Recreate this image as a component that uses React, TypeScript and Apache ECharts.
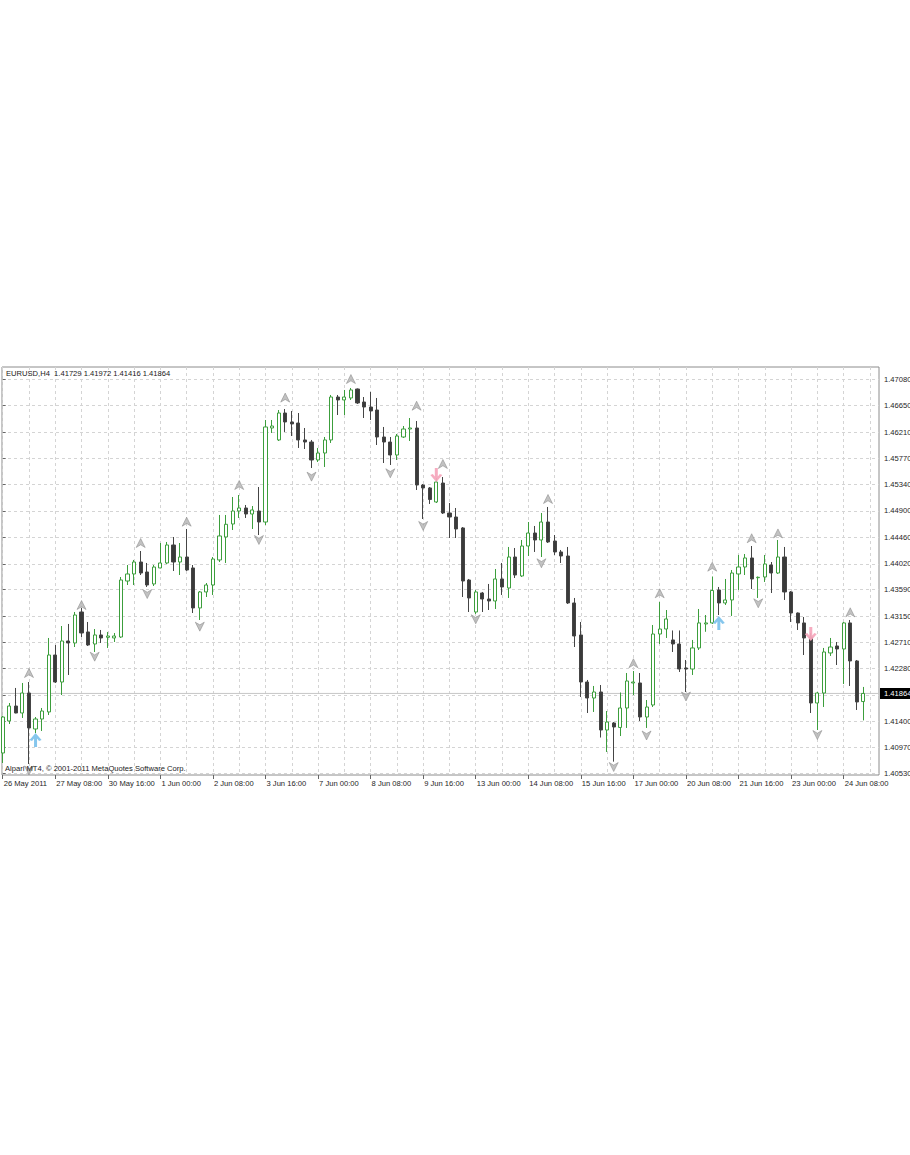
import React, { useEffect, useRef } from "react";
import * as echarts from "echarts";

// ---------- data ----------
const symbolName = "EURUSD,H4";
const copyrightText = "Alpari MT4, \u00A9 2001-2011 MetaQuotes Software Corp.";

// H4 candles, one per bar index, as [open, close, low, high]
const candles: number[][] = [
  [1.40874, 1.41472, 1.40708, 1.41489],
  [1.41406, 1.41655, 1.41356, 1.41705],
  [1.41655, 1.41539, 1.41534, 1.41955],
  [1.41539, 1.41871, 1.41456, 1.42038],
  [1.41871, 1.4129, 1.40691, 1.42054],
  [1.41273, 1.41439, 1.41206, 1.41472],
  [1.41439, 1.41572, 1.4124, 1.41622],
  [1.41556, 1.42503, 1.41506, 1.42786],
  [1.42503, 1.42054, 1.42038, 1.42669],
  [1.42054, 1.42736, 1.41838, 1.42985],
  [1.42736, 1.42703, 1.42171, 1.43019],
  [1.42703, 1.43168, 1.42636, 1.43218],
  [1.43218, 1.42869, 1.42802, 1.43285],
  [1.42886, 1.42669, 1.42653, 1.43052],
  [1.42686, 1.42836, 1.42553, 1.42935],
  [1.42836, 1.42786, 1.42703, 1.42919],
  [1.42797, 1.42819, 1.4262, 1.42886],
  [1.42786, 1.42819, 1.42719, 1.42869],
  [1.42802, 1.4375, 1.42786, 1.438],
  [1.43733, 1.4385, 1.43667, 1.43999],
  [1.4385, 1.44049, 1.43667, 1.44083],
  [1.44049, 1.43866, 1.43833, 1.44232],
  [1.43883, 1.43667, 1.43634, 1.44033],
  [1.43684, 1.43966, 1.4365, 1.43999],
  [1.4395, 1.44033, 1.43945, 1.44365],
  [1.44033, 1.44332, 1.44016, 1.44382],
  [1.44332, 1.44049, 1.439, 1.44465],
  [1.44049, 1.44132, 1.43833, 1.44365],
  [1.44132, 1.43916, 1.439, 1.44598],
  [1.4395, 1.43285, 1.43201, 1.43999],
  [1.43285, 1.43551, 1.43085, 1.43567],
  [1.43551, 1.43667, 1.43467, 1.437],
  [1.43667, 1.44099, 1.43501, 1.44132],
  [1.44083, 1.44482, 1.44049, 1.44831],
  [1.44465, 1.44676, 1.44033, 1.44831],
  [1.44681, 1.44897, 1.44581, 1.4513],
  [1.44897, 1.44947, 1.44781, 1.45163],
  [1.44947, 1.44847, 1.44781, 1.44997],
  [1.44847, 1.44914, 1.44598, 1.4498],
  [1.44897, 1.44714, 1.44498, 1.45296],
  [1.44714, 1.46294, 1.44664, 1.4641],
  [1.46277, 1.4631, 1.46194, 1.4641],
  [1.46078, 1.46526, 1.46061, 1.46576],
  [1.46526, 1.46377, 1.46211, 1.46593],
  [1.46377, 1.46344, 1.46144, 1.4656],
  [1.4636, 1.46078, 1.45945, 1.46526],
  [1.46078, 1.46044, 1.45928, 1.46277],
  [1.46044, 1.45745, 1.45612, 1.46078],
  [1.45745, 1.45861, 1.45712, 1.45945],
  [1.45861, 1.46078, 1.45629, 1.46127],
  [1.46078, 1.46792, 1.46028, 1.46826],
  [1.46792, 1.46743, 1.46493, 1.46826],
  [1.46743, 1.46792, 1.46493, 1.46909],
  [1.46776, 1.46909, 1.46743, 1.46942],
  [1.46925, 1.46693, 1.46676, 1.46934],
  [1.46709, 1.46626, 1.46443, 1.46792],
  [1.46626, 1.4656, 1.4641, 1.46876],
  [1.46576, 1.46127, 1.45994, 1.46776],
  [1.46127, 1.46044, 1.45695, 1.46294],
  [1.46044, 1.45828, 1.45662, 1.46127],
  [1.45828, 1.46144, 1.45745, 1.46177],
  [1.46127, 1.4626, 1.46111, 1.4631],
  [1.4626, 1.46277, 1.46061, 1.46443],
  [1.46277, 1.45329, 1.45246, 1.46393],
  [1.45329, 1.4528, 1.44764, 1.45346],
  [1.4528, 1.45088, 1.45014, 1.45296],
  [1.45047, 1.45379, 1.4503, 1.45446],
  [1.45362, 1.44864, 1.44847, 1.45462],
  [1.44864, 1.44797, 1.44448, 1.4503],
  [1.44797, 1.44598, 1.44448, 1.44947],
  [1.44615, 1.43733, 1.43467, 1.44631],
  [1.4375, 1.43451, 1.43218, 1.43767],
  [1.43218, 1.43551, 1.43185, 1.43584],
  [1.43534, 1.43434, 1.43218, 1.43551],
  [1.43434, 1.43401, 1.43251, 1.43684],
  [1.43401, 1.43767, 1.43268, 1.43933],
  [1.43767, 1.43634, 1.43501, 1.44033],
  [1.43617, 1.44132, 1.43451, 1.44299],
  [1.44132, 1.43833, 1.43783, 1.44282],
  [1.43817, 1.44315, 1.438, 1.44415],
  [1.44315, 1.44531, 1.44149, 1.44714],
  [1.44531, 1.44415, 1.44216, 1.44648],
  [1.44415, 1.44714, 1.44132, 1.44864],
  [1.44714, 1.44382, 1.44365, 1.44964],
  [1.44398, 1.44216, 1.44166, 1.44498],
  [1.44216, 1.44149, 1.44033, 1.44249],
  [1.44149, 1.43368, 1.43351, 1.44299],
  [1.43368, 1.42819, 1.42636, 1.43451],
  [1.42836, 1.42054, 1.41805, 1.43052],
  [1.42054, 1.41788, 1.41539, 1.42088],
  [1.41788, 1.41888, 1.41556, 1.41988],
  [1.41888, 1.41256, 1.41131, 1.42004],
  [1.41256, 1.41389, 1.40891, 1.41572],
  [1.41373, 1.41306, 1.4073, 1.41389],
  [1.41298, 1.41622, 1.41156, 1.4188],
  [1.41622, 1.42071, 1.4129, 1.42204],
  [1.42038, 1.42054, 1.41838, 1.42237],
  [1.42038, 1.41472, 1.41406, 1.42204],
  [1.41472, 1.41638, 1.4129, 1.41755],
  [1.41672, 1.42852, 1.41639, 1.43002],
  [1.42852, 1.42935, 1.42686, 1.43384],
  [1.42935, 1.43102, 1.42786, 1.43251],
  [1.42753, 1.42686, 1.42553, 1.42911],
  [1.42686, 1.4227, 1.42221, 1.42911],
  [1.42287, 1.4227, 1.41888, 1.4242],
  [1.4227, 1.4262, 1.42171, 1.42753],
  [1.4262, 1.43036, 1.42586, 1.43268],
  [1.43019, 1.43036, 1.42889, 1.43168],
  [1.43036, 1.43576, 1.43019, 1.43808],
  [1.43584, 1.43368, 1.43168, 1.43634],
  [1.43368, 1.43418, 1.43335, 1.43767],
  [1.43418, 1.43866, 1.43152, 1.43916],
  [1.4385, 1.43966, 1.43584, 1.44166],
  [1.43966, 1.44116, 1.43833, 1.44182],
  [1.44116, 1.43767, 1.436, 1.44315],
  [1.43788, 1.43795, 1.43451, 1.43808],
  [1.438, 1.44016, 1.43717, 1.44166],
  [1.43999, 1.43866, 1.43534, 1.44049],
  [1.43866, 1.44132, 1.4385, 1.44415],
  [1.44132, 1.43551, 1.43418, 1.44299],
  [1.43551, 1.43201, 1.43052, 1.43567],
  [1.43201, 1.43036, 1.42919, 1.4321],
  [1.43036, 1.42786, 1.42503, 1.43135],
  [1.42802, 1.41705, 1.41539, 1.42869],
  [1.41705, 1.41871, 1.41256, 1.41888],
  [1.41871, 1.42553, 1.41639, 1.4262],
  [1.42537, 1.42636, 1.42487, 1.42786],
  [1.42653, 1.42603, 1.42337, 1.42719],
  [1.42603, 1.43036, 1.42021, 1.43052],
  [1.43036, 1.42404, 1.41988, 1.43085],
  [1.42404, 1.41722, 1.41589, 1.4242],
  [1.41729, 1.41864, 1.41416, 1.41972],
];

// Fractal arrows: [bar index, price]
const upFractals: number[][] = [
  [4, 1.42204], [12, 1.43334], [21, 1.44365], [28, 1.44719], [36, 1.45329],
  [43, 1.46782], [53, 1.47091], [63, 1.46647], [67, 1.45679], [83, 1.45097],
  [96, 1.42366], [100, 1.43529], [108, 1.43971], [114, 1.44444], [118, 1.44524],
  [129, 1.43213],
];
const downFractals: number[][] = [
  [4, 1.40583], [14, 1.42475], [22, 1.43517], [30, 1.42974], [39, 1.44415],
  [47, 1.45468], [59, 1.45524], [64, 1.44648], [72, 1.43097], [82, 1.44028],
  [93, 1.40641], [98, 1.41165], [104, 1.41813], [115, 1.43363], [124, 1.41173],
];
// Signal arrows: [bar index, price]
const buySignals: number[][] = [[5, 1.4109], [109, 1.43036]];
const sellSignals: number[][] = [[66, 1.45496], [123, 1.42852]];

// Time axis: labelled bars and their texts, grid every 4 bars
const labelBars = [0, 8, 16, 24, 32, 40, 48, 56, 64, 72, 80, 88, 96, 104, 112, 120, 128];
const timeLabels = [
  "26 May 2011", "27 May 08:00", "30 May 16:00", "1 Jun 00:00", "2 Jun 08:00",
  "3 Jun 16:00", "7 Jun 00:00", "8 Jun 08:00", "9 Jun 16:00", "13 Jun 00:00",
  "14 Jun 08:00", "15 Jun 16:00", "17 Jun 00:00", "20 Jun 08:00", "21 Jun 16:00",
  "23 Jun 00:00", "24 Jun 08:00",
];
const gridBars = [0, 4, 8, 12, 16, 20, 24, 28, 32, 36, 40, 44, 48, 52, 56, 60, 64, 68, 72, 76, 80, 84, 88, 92, 96, 100, 104, 108, 112, 116, 120, 124, 128, 132];

// Price axis ticks and labels
const yTicks = [1.4053, 1.4097, 1.414, 1.4184, 1.4228, 1.4271, 1.4315, 1.4359, 1.4402, 1.4446, 1.449, 1.4534, 1.4577, 1.4621, 1.4665, 1.4708];
const yTickLabels = ["1.40530", "1.40970", "1.41400", "1.41840", "1.42280", "1.42710", "1.43150", "1.43590", "1.44020", "1.44460", "1.44900", "1.45340", "1.45770", "1.46210", "1.46650", "1.47080"];
const yLabelValues = yTicks.filter((v) => v !== 1.4184); // covered by price tag

// ---------- styling ----------
const FONT = "Liberation Sans";
const FS = 7.6;
const UP_FRACTAL = "path://M5,0 L10,10 L5,7 L0,10 Z";
const DOWN_FRACTAL = "path://M0,0 L5,3 L10,0 L5,10 Z";
const UP_ARROW = "path://M6,0 L12,7 L9.5,8 L7.5,5.5 L7.5,14 L4.5,14 L4.5,5.5 L2.5,8 L0,7 Z";
const DOWN_ARROW = "path://M6,14 L12,7 L9.5,6 L7.5,8.5 L7.5,0 L4.5,0 L4.5,8.5 L2.5,6 L0,7 Z";

export default function App() {
  const ref = useRef<HTMLDivElement>(null);

  useEffect(() => {
    if (!ref.current) return;
    const chart = echarts.init(ref.current, null, { renderer: "svg" });

    const candleData = candles.map((c, i) => [i, c[0], c[1], c[2], c[3]]);
    const last = candles[candles.length - 1];
    const lastClose = last[1];
    const titleText = `${symbolName}  ${last[0].toFixed(5)} ${last[3].toFixed(5)} ${last[2].toFixed(5)} ${last[1].toFixed(5)}`;

    const X_MIN = -0.1065;
    const X_MAX = 133.38;
    const Y_MIN = 1.40508;
    const Y_MAX = 1.47291;

    const option: any = {
      animation: false,
      backgroundColor: "#ffffff",
      textStyle: { fontFamily: FONT },
      grid: {
        left: 2,
        top: 367,
        width: 877,
        height: 408,
        show: true,
        borderColor: "#8c8c8c",
        borderWidth: 1,
        backgroundColor: "#ffffff",
        containLabel: false,
        outerBoundsMode: "none",
      },
      xAxis: [
        {
          type: "value",
          min: X_MIN,
          max: X_MAX,
          position: "bottom",
          axisLine: { show: false },
          axisTick: { show: false, customValues: gridBars },
          splitLine: { show: true, lineStyle: { color: "#d4d4d4", type: [3, 3], width: 1 } },
          axisLabel: {
            show: true,
            customValues: labelBars,
            formatter: (v: number) => {
              const k = labelBars.findIndex((b) => Math.abs(b - v) < 1e-6);
              return k >= 0 ? timeLabels[k] : "";
            },
            align: "left",
            margin: 4,
            padding: [0, 0, 0, 1],
            fontSize: FS,
            fontFamily: FONT,
            color: "#1e1e1e",
          },
        },
        {
          type: "value",
          min: X_MIN,
          max: X_MAX,
          position: "bottom",
          axisLine: { show: false },
          axisTick: { show: true, customValues: labelBars, length: 4, lineStyle: { color: "#666666" } },
          axisLabel: { show: false },
          splitLine: { show: false },
        },
      ],
      yAxis: [
        {
          type: "value",
          position: "right",
          min: Y_MIN,
          max: Y_MAX,
          axisLine: { show: false },
          axisTick: { show: true, customValues: yTicks, length: 3, lineStyle: { color: "#666666" } },
          axisLabel: {
            show: true,
            customValues: yLabelValues,
            formatter: (v: number) => {
              const k = yTicks.findIndex((t) => Math.abs(t - v) < 1e-7);
              return k >= 0 ? yTickLabels[k] : "";
            },
            margin: 5,
            fontSize: FS,
            fontFamily: FONT,
            color: "#1e1e1e",
          },
          splitLine: { show: true, lineStyle: { color: "#d4d4d4", type: [3, 3], width: 1 } },
        },
        {
          // current price tag on the price scale
          type: "value",
          position: "right",
          min: Y_MIN,
          max: Y_MAX,
          axisLine: { show: false },
          axisTick: { show: false, customValues: [lastClose] },
          splitLine: { show: false },
          axisLabel: {
            show: true,
            customValues: [lastClose],
            formatter: (v: number) => v.toFixed(5),
            margin: 1,
            fontSize: FS,
            fontFamily: FONT,
            color: "#ffffff",
            backgroundColor: "#000000",
            padding: [2, 6, 1, 4],
          },
        },
      ],
      graphic: [
        {
          type: "text",
          x: 6,
          y: 373.5,
          z: 50,
          style: { text: titleText, fill: "#1a1a1a", fontSize: FS, fontFamily: FONT, verticalAlign: "middle" },
        },
        {
          type: "text",
          x: 5,
          y: 768.5,
          z: 50,
          style: { text: copyrightText, fill: "#1a1a1a", fontSize: FS, fontFamily: FONT, verticalAlign: "middle" },
        },
      ],
      series: [
        {
          // current-price line
          type: "line",
          xAxisIndex: 0,
          yAxisIndex: 0,
          data: [
            [X_MIN, lastClose],
            [X_MAX, lastClose],
          ],
          showSymbol: false,
          symbol: "none",
          silent: true,
          z: 1,
          lineStyle: { color: "#c6c6c6", width: 1, type: "solid" },
        },
        {
          type: "candlestick",
          xAxisIndex: 0,
          yAxisIndex: 0,
          data: candleData,
          barWidth: 3.6,
          z: 3,
          itemStyle: {
            color: "#ffffff",
            color0: "#3a3a3a",
            borderColor: "#3c9e3c",
            borderColor0: "#454545",
            borderWidth: 1,
          },
        },
        {
          type: "scatter",
          data: upFractals,
          symbol: UP_FRACTAL,
          symbolSize: [9, 9],
          itemStyle: { color: "#b3b3b3", borderColor: "#7d7d7d", borderWidth: 0.6 },
          z: 4,
        },
        {
          type: "scatter",
          data: downFractals,
          symbol: DOWN_FRACTAL,
          symbolSize: [9, 9],
          itemStyle: { color: "#b3b3b3", borderColor: "#7d7d7d", borderWidth: 0.6 },
          z: 4,
        },
        {
          type: "scatter",
          data: buySignals,
          symbol: UP_ARROW,
          symbolSize: [12, 14],
          itemStyle: { color: "#7ec3ec", opacity: 0.95 },
          z: 5,
        },
        {
          type: "scatter",
          data: sellSignals,
          symbol: DOWN_ARROW,
          symbolSize: [12, 14],
          itemStyle: { color: "#f5a8bd", opacity: 0.95 },
          z: 5,
        },
      ],
    };

    chart.setOption(option);
    return () => chart.dispose();
  }, []);

  return (
    <div
      ref={ref}
      style={{ position: "absolute", left: 0, top: 0, width: 910, height: 1155, background: "#ffffff" }}
    />
  );
}
